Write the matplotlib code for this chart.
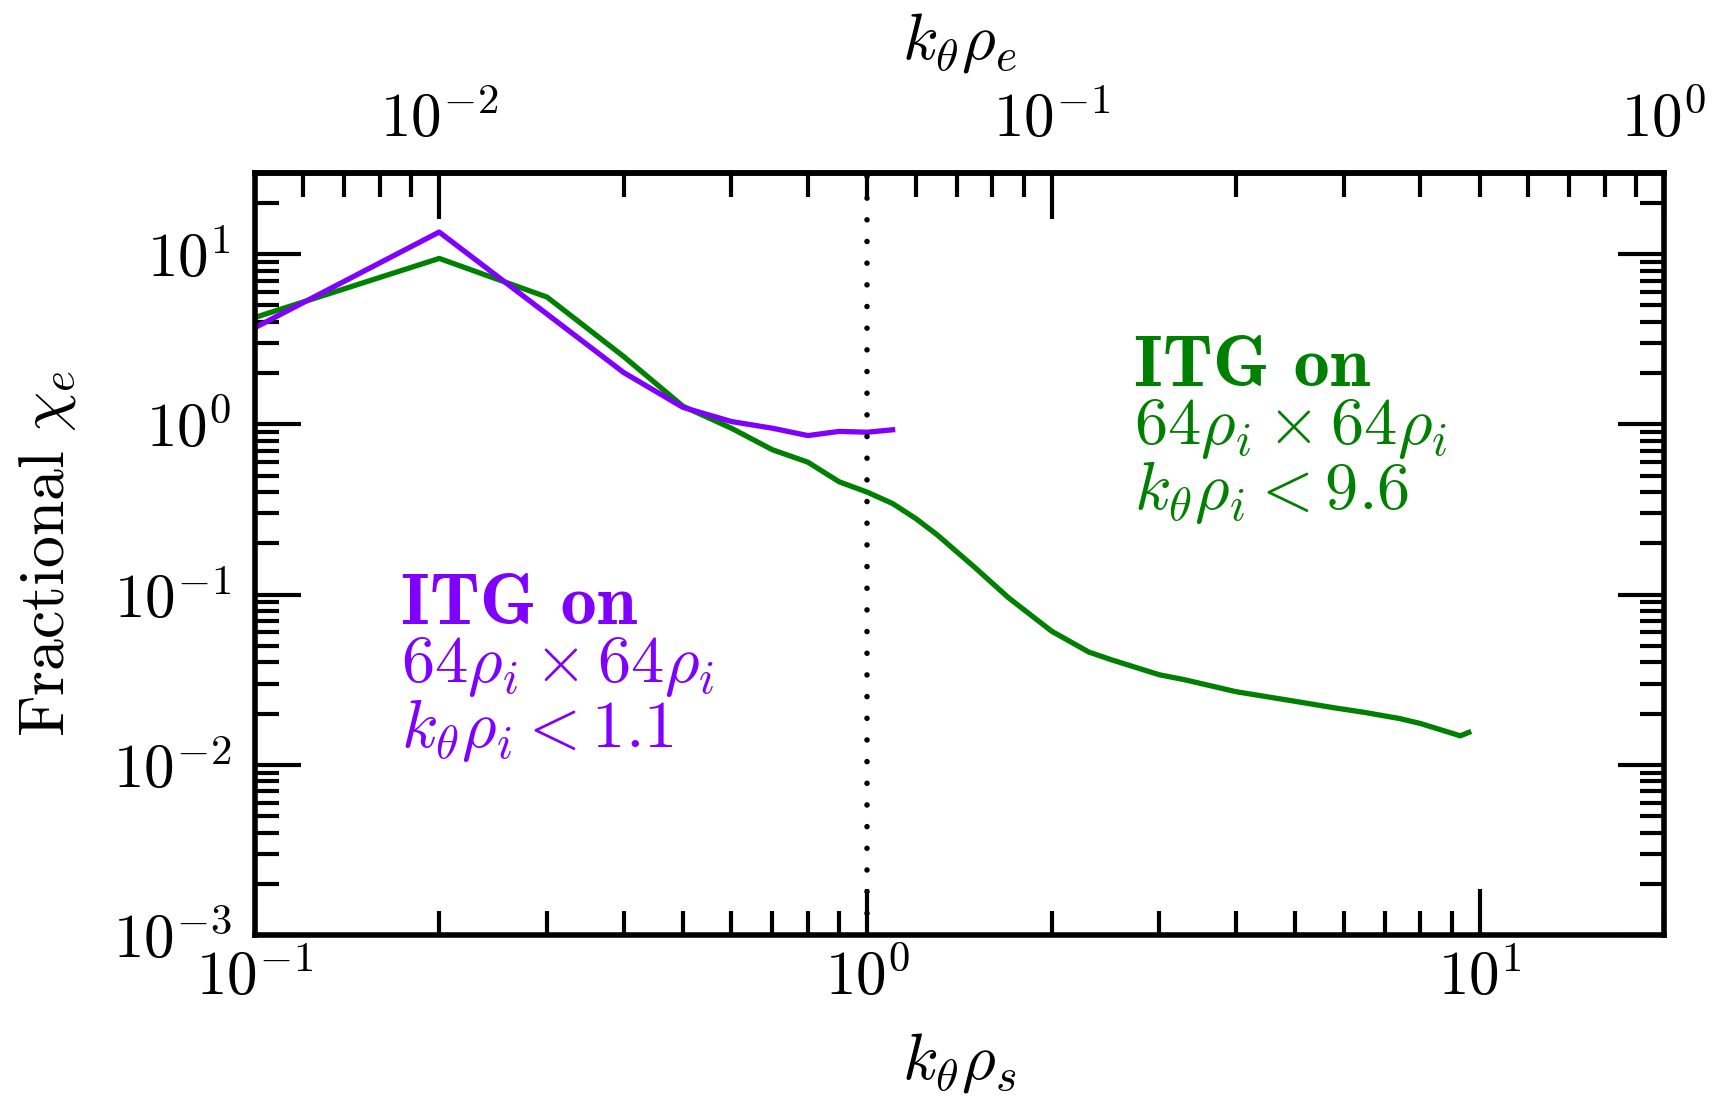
import numpy as np
import matplotlib
matplotlib.use('Agg')
import matplotlib.pyplot as plt
from matplotlib import ticker

plt.rcParams['mathtext.fontset'] = 'cm'
plt.rcParams['font.family'] = 'serif'
plt.rcParams['font.serif'] = ['cmr10', 'DejaVu Serif']
plt.rcParams['axes.unicode_minus'] = False

# ITG on, 64 rho_i x 64 rho_i, k_theta rho_i < 1.1 (purple)
k_small = [0.1, 0.2, 0.3, 0.4, 0.5, 0.6, 0.7, 0.8, 0.9, 1.0, 1.1]
chi_small = [3.7, 13.5, 4.45, 2.02, 1.26, 1.04, 0.95, 0.86, 0.91, 0.90, 0.93]

# ITG on, 64 rho_i x 64 rho_i, k_theta rho_i < 9.6 (green)
k_big = [0.1, 0.2, 0.3, 0.4, 0.5, 0.6, 0.7, 0.8, 0.9, 1.0, 1.1, 1.2, 1.3,
         1.5, 1.7, 2.0, 2.3, 2.5, 3.0, 3.3, 4.0, 4.5, 5.0, 5.8, 6.5, 7.4,
         8.0, 9.3, 9.6]
chi_big = [4.25, 9.45, 5.6, 2.51, 1.28, 0.95, 0.71, 0.60, 0.46, 0.40, 0.343,
           0.28, 0.225, 0.144, 0.096, 0.061, 0.046, 0.0415, 0.0338, 0.0316,
           0.0269, 0.0251, 0.0236, 0.0216, 0.0203, 0.0187, 0.0175, 0.0148,
           0.0155]

rho_ratio = 0.05   # k_theta rho_e = 0.05 * k_theta rho_s

purple = '#8000ff'
green = '#008000'
fs = 44

fig = plt.figure(figsize=(17.22, 11), dpi=100)
ax = fig.add_axes([0.148, 0.15, 0.8183, 0.6927])

ax.plot(k_big, chi_big, color=green, lw=3.8)
ax.plot(k_small, chi_small, color=purple, lw=3.8)
ax.axvline(1.0, color='k', lw=4, linestyle=(0, (0.001, 3.9)),
           dash_capstyle='round')

ax.set_xscale('log')
ax.set_yscale('log')
ax.set_xlim(0.1, 20)
ax.set_ylim(1e-3, 30)

fmt = ticker.FuncFormatter(lambda v, p: r'$10^{%d}$' % round(np.log10(v)))
ax.xaxis.set_major_formatter(fmt)
ax.yaxis.set_major_formatter(fmt)
ax.xaxis.set_minor_formatter(ticker.NullFormatter())
ax.yaxis.set_minor_formatter(ticker.NullFormatter())

ax.tick_params(which='both', direction='in', top=False, right=True,
               width=3, labelsize=fs)
ax.tick_params(which='major', length=33)
ax.tick_params(axis='x', which='major', pad=10)
ax.tick_params(axis='y', which='major', pad=17)
ax.tick_params(which='minor', length=17)
for s in ax.spines.values():
    s.set_linewidth(4)

secax = ax.secondary_xaxis('top', functions=(lambda x: x * rho_ratio,
                                             lambda x: x / rho_ratio))
secax.xaxis.set_major_formatter(fmt)
secax.xaxis.set_minor_formatter(ticker.NullFormatter())
secax.tick_params(which='both', direction='in', width=3, labelsize=fs)
secax.tick_params(which='major', length=33, pad=17)
secax.tick_params(which='minor', length=17)
secax.spines['top'].set_linewidth(4)

ax.set_xlabel(r'$k_\theta\rho_s$', fontsize=47)
ax.xaxis.label.set_va('center')
ax.xaxis.set_label_coords(0.5, -0.168)
ax.set_ylabel(r'$\mathrm{Fractional}\ \chi_e$', fontsize=46)
ax.yaxis.label.set_va('center')
ax.yaxis.set_label_coords(-0.147, 0.5)
secax.set_xlabel(r'$k_\theta\rho_e$', fontsize=47, labelpad=24)

dy = 0.0814
for i, t in enumerate([r'$64\rho_i\times64\rho_i$', r'$k_\theta\rho_i<1.1$']):
    ax.text(0.1036, 0.475 - (i + 1) * dy, t, color=purple, fontsize=48,
            transform=ax.transAxes, va='top', ha='left')
for i, t in enumerate([r'$64\rho_i\times64\rho_i$', r'$k_\theta\rho_i<9.6$']):
    ax.text(0.624, 0.787 - (i + 1) * dy, t, color=green, fontsize=48,
            transform=ax.transAxes, va='top', ha='left')
ax.text(0.1036, 0.475, 'ITG on', color=purple, fontsize=52,
        family='cmb10', transform=ax.transAxes, va='top', ha='left')
ax.text(0.624, 0.787, 'ITG on', color=green, fontsize=52,
        family='cmb10', transform=ax.transAxes, va='top', ha='left')

fig.savefig('out.png', dpi=100)
